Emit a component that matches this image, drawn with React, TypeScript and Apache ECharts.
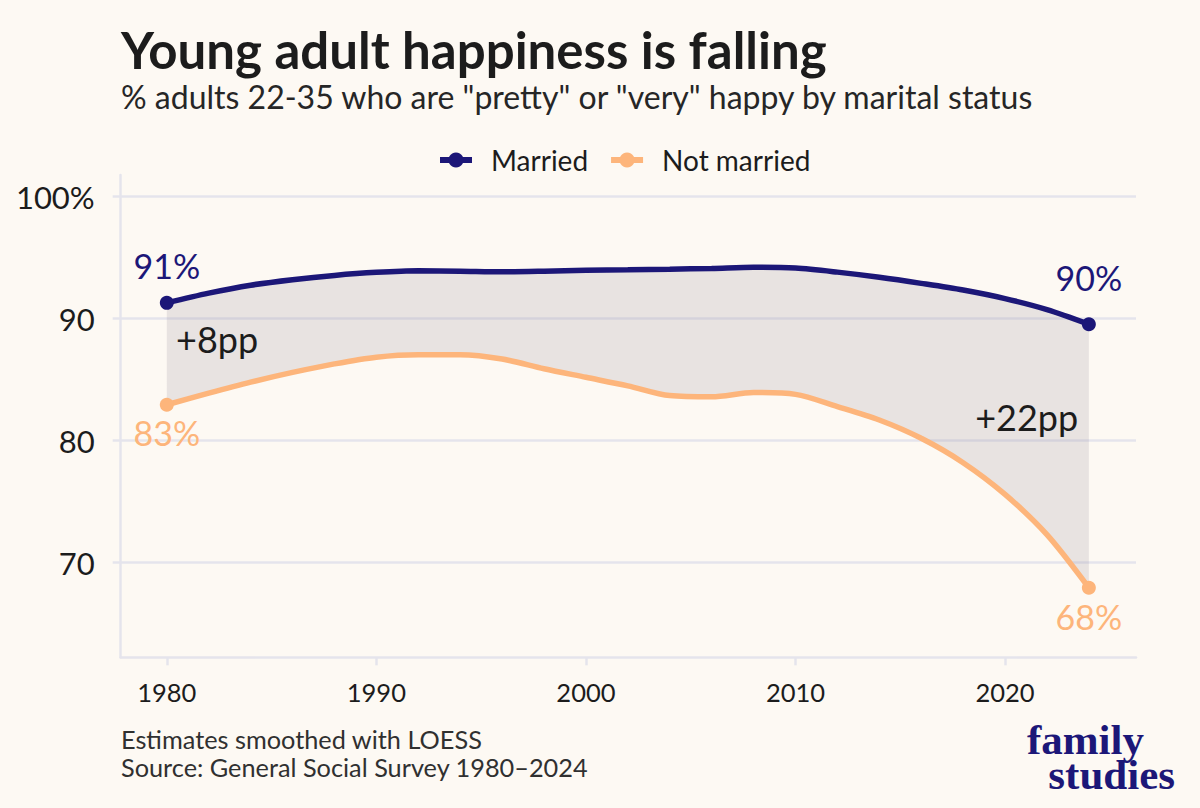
import React, { useEffect, useRef } from 'react';
import * as echarts from 'echarts';

// ---- data ----
const YEARS = [1980, 1982, 1984, 1986, 1988, 1990, 1992, 1994, 1996, 1998, 2000, 2002, 2004, 2006, 2008, 2010, 2012, 2014, 2016, 2018, 2020, 2022, 2024];
const MARRIED = [91.3, 92.1, 92.75, 93.2, 93.55, 93.8, 93.93, 93.9, 93.85, 93.9, 93.98, 94.02, 94.06, 94.12, 94.22, 94.15, 93.82, 93.4, 92.9, 92.35, 91.65, 90.75, 89.55];
const NOT_MARRIED = [82.95, 83.9, 84.8, 85.6, 86.3, 86.85, 87.05, 87.05, 86.7, 85.9, 85.2, 84.5, 83.7, 83.6, 83.95, 83.8, 82.8, 81.7, 80.2, 78.2, 75.6, 72.3, 67.95];
const SERIES_NAMES = ['Married', 'Not married'];
const X_TICKS = [1980, 1990, 2000, 2010, 2020];
const Y_TICKS = [70, 80, 90, 100];
const GAP_NOTE_ANCHORS = [
  { x: 1980.44, y: 88.34, align: 'left' },
  { x: 2023.49, y: 81.93, align: 'right' },
];

const NAVY = '#1c1778';
const ORANGE = '#fdb57b';
const GRID = '#e5e4ec';
const BG = '#fdf9f3';
const INK = '#1c1c1c';
const FONT = 'Lato';

export default function App() {
  const ref = useRef<HTMLDivElement>(null);

  useEffect(() => {
    document.body.style.margin = '0';
    const chart = echarts.init(ref.current as HTMLDivElement, null, { renderer: 'svg' });
    const last = YEARS.length - 1;

    // value first, year second (encode swaps them) so that stacking happens on the value dimension
    const buildData = (vals: number[], pos: string, d0: number, d1: number, swap: boolean) =>
      YEARS.map((yr, i) => {
        const v = swap ? [vals[i], yr] : [yr, vals[i]];
        if (i === 0 || i === last) {
          return {
            value: v,
            label: {
              show: true,
              position: pos,
              distance: i === 0 ? d0 : d1,
              formatter: `${Math.round(vals[i])}%`,
            },
          };
        }
        return { value: v, symbol: 'none' };
      });

    const gap = MARRIED.map((m, i) => m - NOT_MARRIED[i]);
    const gapFirst = Math.round(MARRIED[0] - NOT_MARRIED[0]);
    const gapLast = Math.round(MARRIED[last] - NOT_MARRIED[last]);
    const noteTexts = [`+${gapFirst}pp`, `+${gapLast}pp`];

    const logoStyle = {
      fontSize: 43,
      fontWeight: 'bold',
      fontFamily: 'Liberation Serif',
      fill: NAVY,
      lineHeight: 35,
    };

    const option: any = {
      animation: false,
      backgroundColor: BG,
      textStyle: { fontFamily: FONT },
      grid: { left: 120.7, right: 64, top: 175, bottom: 150.7, containLabel: false },
      legend: {
        data: SERIES_NAMES,
        left: 437,
        top: 146,
        padding: 0,
        itemWidth: 32,
        itemHeight: 19,
        itemGap: 20,
        lineStyle: { width: 6 },
        textStyle: { fontSize: 28, color: INK, fontFamily: FONT, padding: [0, 0, 0, 14] },
      },
      xAxis: {
        type: 'value',
        min: 1977.8,
        max: 2026.25,
        splitNumber: 5,
        axisLine: { show: true, onZero: false, lineStyle: { color: GRID, width: 2.5 } },
        axisTick: { show: true, length: 8, customValues: X_TICKS, lineStyle: { color: GRID, width: 2.5 } },
        axisLabel: {
          customValues: X_TICKS,
          fontSize: 25.5,
          color: INK,
          fontFamily: FONT,
          margin: 22,
          formatter: (v: number) => String(v),
        },
        splitLine: { show: false },
      },
      yAxis: {
        type: 'value',
        min: 62.25,
        max: 101.78,
        splitNumber: 4,
        axisLine: { show: true, onZero: false, lineStyle: { color: GRID, width: 2.5 } },
        axisTick: { show: true, length: 8, customValues: Y_TICKS, lineStyle: { color: GRID, width: 2.5 } },
        axisLabel: {
          customValues: Y_TICKS,
          fontSize: 31,
          color: INK,
          fontFamily: FONT,
          margin: 26,
          formatter: (v: number) => (v === 100 ? '100%' : String(v)),
        },
        splitLine: { show: true, lineStyle: { color: GRID, width: 2.5 } },
      },
      series: [
        {
          name: SERIES_NAMES[1],
          type: 'line',
          stack: 'band',
          encode: { x: 1, y: 0 },
          smooth: 0.3,
          z: 3,
          symbol: 'circle',
          symbolSize: 14,
          color: ORANGE,
          lineStyle: { color: ORANGE, width: 5.5 },
          itemStyle: { color: ORANGE },
          label: { color: ORANGE, fontSize: 34, fontFamily: FONT },
          data: buildData(NOT_MARRIED, 'bottom', 4, 5, true),
        },
        {
          name: 'gap',
          type: 'line',
          stack: 'band',
          encode: { x: 1, y: 0 },
          smooth: 0.3,
          z: 1,
          silent: true,
          symbol: 'none',
          lineStyle: { width: 0, opacity: 0 },
          areaStyle: { color: 'rgba(148,139,153,0.2)', opacity: 1 },
          data: YEARS.map((yr, i) => [gap[i], yr]),
        },
        {
          name: SERIES_NAMES[0],
          type: 'line',
          smooth: 0.3,
          z: 4,
          symbol: 'circle',
          symbolSize: 14,
          color: NAVY,
          lineStyle: { color: NAVY, width: 5.5 },
          itemStyle: { color: NAVY },
          label: { color: NAVY, fontSize: 34, fontFamily: FONT },
          data: buildData(MARRIED, 'top', 13, 23, false),
          markPoint: {
            symbol: 'circle',
            symbolSize: 0,
            silent: true,
            data: GAP_NOTE_ANCHORS.map((a, i) => ({
              coord: [a.x, a.y],
              label: {
                show: true,
                position: 'inside',
                formatter: noteTexts[i],
                align: a.align,
                verticalAlign: 'middle',
                color: INK,
                fontSize: 36,
                fontFamily: FONT,
              },
            })),
          },
        },
      ],
      graphic: [
        {
          type: 'text', x: 121, y: 49,
          style: { text: 'Young adult happiness is falling', fontSize: 51, fontWeight: 'bold', fontFamily: FONT, fill: INK, verticalAlign: 'middle' },
        },
        {
          type: 'text', x: 121, y: 96,
          style: { text: '% adults 22-35 who are "pretty" or "very" happy by marital status', fontSize: 32, fontFamily: FONT, fill: '#262626', verticalAlign: 'middle' },
        },
        {
          type: 'text', x: 121, y: 739,
          style: { text: 'Estimates smoothed with LOESS', fontSize: 25.3, fontFamily: FONT, fill: '#303030', verticalAlign: 'middle', lineHeight: 27 },
        },
        {
          type: 'text', x: 121, y: 766.5,
          style: { text: 'Source: General Social Survey 1980\u20132024', fontSize: 25.3, fontFamily: FONT, fill: '#303030', verticalAlign: 'middle', lineHeight: 27 },
        },
        {
          type: 'text', x: 1175, y: 757,
          style: {
            text: '{a|family}\n{b|studies}',
            align: 'right',
            verticalAlign: 'middle',
            rich: {
              a: { ...logoStyle, padding: [0, 31, 0, 0] },
              b: { ...logoStyle },
            },
          },
        },
      ],
    };

    chart.setOption(option);
    return () => chart.dispose();
  }, []);

  return <div ref={ref} style={{ width: 1200, height: 808, background: BG }} />;
}
